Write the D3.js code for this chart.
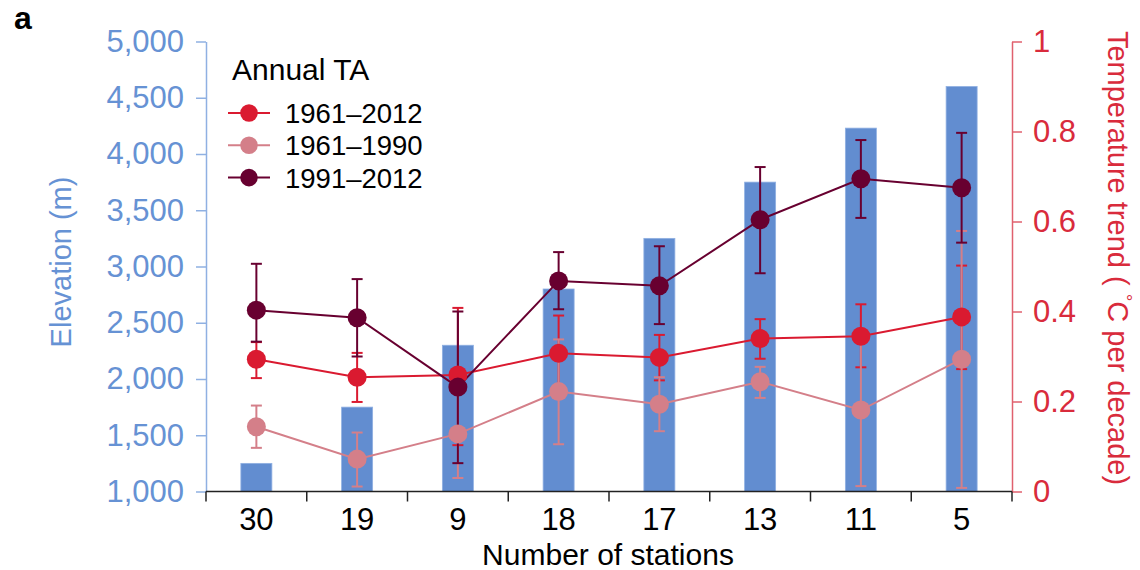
<!DOCTYPE html>
<html>
<head>
<meta charset="utf-8">
<script src="https://cdn.jsdelivr.net/npm/d3@7/dist/d3.min.js"></script>
<style>
  body { margin: 0; background: #fff; }
  svg { display: block; font-family: "Liberation Sans", Arial, sans-serif; }
</style>
</head>
<body>
<svg id="chart" width="1140" height="570"></svg>
<script>
const categories = ["30", "19", "9", "18", "17", "13", "11", "5"];
const elevation = [1250, 1750, 2300, 2800, 3250, 3750, 4230, 4600];

const trend6112 = [0.294, 0.254, 0.259, 0.307, 0.298, 0.340, 0.345, 0.388];
const lo6112    = [0.252, 0.199, 0.103, 0.223, 0.247, 0.295, 0.276, 0.272];
const hi6112    = [0.332, 0.308, 0.408, 0.391, 0.348, 0.383, 0.416, 0.502];

const trend6190 = [0.144, 0.072, 0.128, 0.222, 0.194, 0.244, 0.181, 0.294];
const lo6190    = [0.097, 0.011, 0.030, 0.105, 0.134, 0.208, 0.012, 0.008];
const hi6190    = [0.191, 0.131, 0.226, 0.338, 0.254, 0.277, 0.350, 0.579];

const trend9112 = [0.403, 0.386, 0.232, 0.468, 0.457, 0.604, 0.695, 0.675];
const lo9112    = [0.333, 0.300, 0.063, 0.405, 0.372, 0.485, 0.608, 0.553];
const hi9112    = [0.506, 0.472, 0.400, 0.532, 0.545, 0.721, 0.781, 0.797];

const elevTicks = [1000, 1500, 2000, 2500, 3000, 3500, 4000, 4500, 5000];
const trendTicks = [0, 0.2, 0.4, 0.6, 0.8, 1];

const seriesNames = ["1961\u20132012", "1961\u20131990", "1991\u20132012"];

const C = {
  bar: "#628dd0", barEdge: "#8fb0e2",
  leftText: "#6692d4", leftAxis: "#8fb0e2",
  rightText: "#d92b3c", rightAxis: "#e0606e",
  red: "#da1a30", pink: "#d47f89", dark: "#680030"
};

const series = [
  { name: seriesNames[0], v: trend6112, lo: lo6112, hi: hi6112, color: C.red },
  { name: seriesNames[1], v: trend6190, lo: lo6190, hi: hi6190, color: C.pink },
  { name: seriesNames[2], v: trend9112, lo: lo9112, hi: hi9112, color: C.dark }
];

const FONT = "Liberation Sans, Arial, sans-serif";
const L = 206, R = 1012, T = 41.5, B = 491.5;
const svg = d3.select("#chart");

const x = d3.scaleBand().domain(categories).range([L, R]).padding(0);
const yL = d3.scaleLinear().domain([1000, 5000]).range([B, T]);
const yR = d3.scaleLinear().domain([0, 1]).range([B, T]);
const cx = c => x(c) + x.bandwidth() / 2;
const barW = 31;

// Bars
svg.append("g").selectAll("rect").data(categories).join("rect")
  .attr("x", c => cx(c) - barW / 2)
  .attr("width", barW)
  .attr("y", (c, i) => yL(elevation[i]))
  .attr("height", (c, i) => B - yL(elevation[i]))
  .attr("fill", C.bar)
  .attr("stroke", C.barEdge)
  .attr("stroke-width", 0.8);

// Left axis
const gL = svg.append("g").attr("transform", `translate(${L},0)`)
  .call(d3.axisLeft(yL).tickValues(elevTicks).tickFormat(d3.format(",")).tickSize(10).tickSizeOuter(0).tickPadding(12));
gL.attr("font-family", FONT).attr("font-size", 31);
gL.select(".domain").attr("stroke", C.leftAxis).attr("stroke-width", 1.5);
gL.selectAll(".tick line").attr("stroke", C.leftAxis).attr("stroke-width", 1.5);
gL.selectAll(".tick text").attr("fill", C.leftText);

// Right axis
const gR = svg.append("g").attr("transform", `translate(${R},0)`)
  .call(d3.axisRight(yR).tickValues(trendTicks).tickFormat(d3.format("~g")).tickSize(10).tickSizeOuter(0).tickPadding(11));
gR.attr("font-family", FONT).attr("font-size", 31);
gR.select(".domain").attr("stroke", C.rightAxis).attr("stroke-width", 1.5);
gR.selectAll(".tick line").attr("stroke", C.rightAxis).attr("stroke-width", 1.5);
gR.selectAll(".tick text").attr("fill", C.rightText);

// Bottom axis
const gB = svg.append("g");
gB.append("line").attr("x1", L).attr("x2", R).attr("y1", B).attr("y2", B)
  .attr("stroke", "#222").attr("stroke-width", 1.5);
const bounds = categories.map(c => x(c)).concat([x(categories[categories.length - 1]) + x.bandwidth()]);
gB.selectAll("line.t").data(bounds).join("line").attr("class", "t")
  .attr("x1", d => d).attr("x2", d => d).attr("y1", B).attr("y2", B + 10)
  .attr("stroke", "#222").attr("stroke-width", 1.5);
gB.selectAll("text").data(categories).join("text")
  .attr("x", c => cx(c)).attr("y", 530)
  .attr("text-anchor", "middle").attr("font-size", 31).attr("fill", "#000")
  .text(c => c);
svg.append("text").attr("x", 608).attr("y", 565).attr("text-anchor", "middle")
  .attr("font-size", 30).attr("fill", "#000").text("Number of stations");

// Error bars
const capW = 11;
const gE = svg.append("g");
series.forEach(s => {
  const g = gE.append("g").attr("stroke", s.color).attr("stroke-width", 2);
  categories.forEach((c, i) => {
    const xc = cx(c);
    g.append("line").attr("x1", xc).attr("x2", xc).attr("y1", yR(s.lo[i])).attr("y2", yR(s.hi[i]));
    g.append("line").attr("x1", xc - capW / 2).attr("x2", xc + capW / 2).attr("y1", yR(s.lo[i])).attr("y2", yR(s.lo[i]));
    g.append("line").attr("x1", xc - capW / 2).attr("x2", xc + capW / 2).attr("y1", yR(s.hi[i])).attr("y2", yR(s.hi[i]));
  });
});

// Lines
const drawOrder = [series[1], series[0], series[2]];
const line = d3.line().x((d, i) => cx(categories[i])).y(d => yR(d));
drawOrder.forEach(s => {
  svg.append("path").datum(s.v).attr("d", line)
    .attr("fill", "none").attr("stroke", s.color).attr("stroke-width", 2);
});
// Dots
drawOrder.forEach(s => {
  svg.append("g").selectAll("circle").data(s.v).join("circle")
    .attr("cx", (d, i) => cx(categories[i])).attr("cy", d => yR(d))
    .attr("r", 9.5).attr("fill", s.color);
});

// Legend
const gLeg = svg.append("g");
gLeg.append("text").attr("x", 232).attr("y", 80).attr("font-size", 30).attr("fill", "#000").text("Annual TA");
series.forEach((s, i) => {
  const yy = 113 + i * 32.3;
  gLeg.append("line").attr("x1", 228).attr("x2", 270).attr("y1", yy).attr("y2", yy)
    .attr("stroke", s.color).attr("stroke-width", 2);
  gLeg.append("circle").attr("cx", 249).attr("cy", yy).attr("r", 8.8).attr("fill", s.color);
  gLeg.append("text").attr("x", 285).attr("y", yy + 10).attr("font-size", 27.5).attr("fill", "#000")
    .text(s.name);
});

// Axis titles
svg.append("text").attr("transform", "translate(71,262) rotate(-90)")
  .attr("text-anchor", "middle").attr("font-size", 29).attr("fill", C.leftText)
  .text("Elevation (m)");

const rt = svg.append("text").attr("transform", "translate(1108,258) rotate(90)")
  .attr("text-anchor", "middle").attr("font-size", 29).attr("fill", C.rightText);
rt.append("tspan").text("Temperature trend ( ");
rt.append("tspan").attr("font-size", 19).attr("dy", -11).text("\u00B0");
rt.append("tspan").attr("dy", 11).text("C per decade)");

// Panel label
svg.append("text").attr("x", 14).attr("y", 29).attr("font-size", 32).attr("font-weight", "bold")
  .attr("fill", "#000").text("a");
</script>
</body>
</html>
